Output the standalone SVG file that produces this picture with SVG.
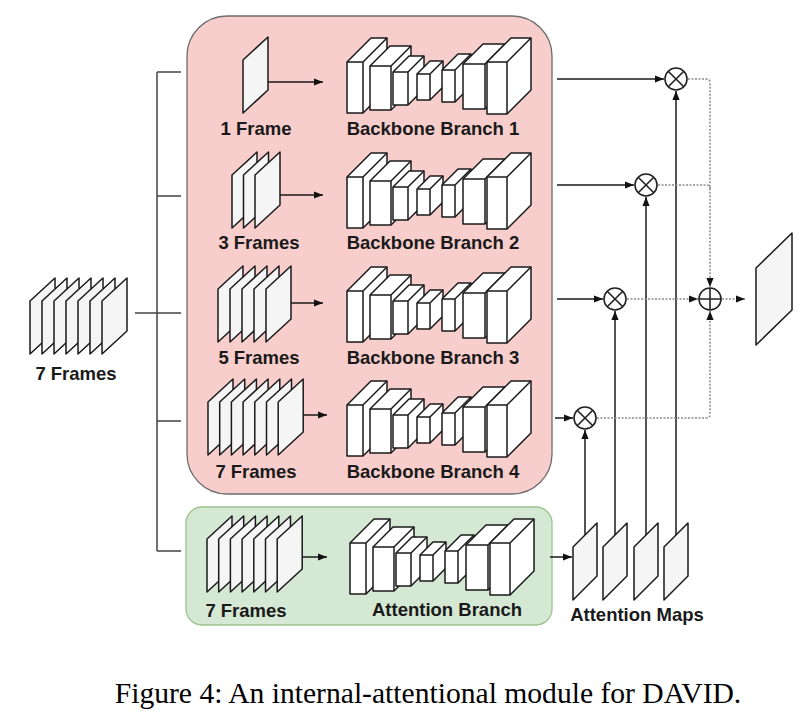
<svg xmlns="http://www.w3.org/2000/svg" width="808" height="726" viewBox="0 0 808 726">
<style>
.lbl{font-family:"Liberation Sans",Arial,sans-serif;font-weight:bold;font-size:18.5px;fill:#1a1a1a;text-anchor:middle}
.cap{font-family:"Liberation Serif","Times New Roman",serif;font-size:29.6px;fill:#000;text-anchor:middle}
.fr{fill:#f5f5f5;stroke:#1a1a1a;stroke-width:1.5;stroke-linejoin:round}
.bx{fill:#fff;stroke:#1a1a1a;stroke-width:1.5;stroke-linejoin:round}
.ed{fill:none;stroke:#1a1a1a;stroke-width:1.5;stroke-linejoin:round}
.ln{fill:none;stroke:#1a1a1a;stroke-width:1.5}
.br{fill:none;stroke:#444;stroke-width:1.5}
.dt{fill:none;stroke:#8a8a8a;stroke-width:1.5;stroke-dasharray:2 1.5}
.op{fill:none;stroke:#222;stroke-width:1.6}
</style>
<defs>
<marker id="ah" viewBox="0 0 10 10" refX="10" refY="5" markerWidth="9" markerHeight="9" markerUnits="userSpaceOnUse" orient="auto">
<path d="M0,1 L10,5 L0,9 z" fill="#111"/>
</marker>
<path id="fr" class="fr" d="M0,23 L25,0 L25,53 L0,76 Z"/>
<path id="mp" class="fr" d="M0,24 L24,0 L24,53 L0,77 Z"/>
<g id="net">
<path class="bx" d="M347,62 L371,38 L387,38 L387,89 L363,113 L347,113 Z"/><path class="ed" d="M347,62 H363 L387,38 M363,62 V113"/>
<path class="bx" d="M370,66 L390,46 L411,46 L411,90 L391,110 L370,110 Z"/><path class="ed" d="M370,66 H391 L411,46 M391,66 V110"/>
<path class="bx" d="M393,72 L409,56 L424,56 L424,89 L408,105 L393,105 Z"/><path class="ed" d="M393,72 H408 L424,56 M408,72 V105"/>
<path class="bx" d="M417,74 L430,61 L443,61 L443,87 L430,100 L417,100 Z"/><path class="ed" d="M417,74 H430 L443,61 M430,74 V100"/>
<path class="bx" d="M442,70 L458,54 L471,54 L471,86 L455,102 L442,102 Z"/><path class="ed" d="M442,70 H455 L471,54 M455,70 V102"/>
<path class="bx" d="M463,64 L483,44 L505,44 L505,89 L485,109 L463,109 Z"/><path class="ed" d="M463,64 H485 L505,44 M485,64 V109"/>
<path class="bx" d="M487,62 L511,38 L531,38 L531,90 L507,114 L487,114 Z"/><path class="ed" d="M487,62 H507 L531,38 M507,62 V114"/>
</g>
</defs>
<rect width="808" height="726" fill="#fff"/>

<g id="backbone-container">
<rect x="187" y="16" width="365" height="478" rx="40" fill="#f8cecc" stroke="#6e6e6e" stroke-width="1.3"/>
</g>
<g id="attention-container">
<rect x="186" y="507" width="366" height="118" rx="16" fill="#d5e8d4" stroke="#9cc48e" stroke-width="1.3"/>
</g>

<g id="connectors">
<path class="br" d="M135,313 H181 M157,72 V551 M157,72 H181 M157,196 H181 M157,421 H181 M157,551 H181"/>
<path class="ln" marker-end="url(#ah)" d="M268,82 H323"/>
<path class="ln" marker-end="url(#ah)" d="M280,195 H323"/>
<path class="ln" marker-end="url(#ah)" d="M291,303 H323"/>
<path class="ln" marker-end="url(#ah)" d="M303,415 H327"/>
<path class="ln" marker-end="url(#ah)" d="M303,557 H327"/>
<path class="ln" marker-end="url(#ah)" d="M557,79 H664"/>
<path class="ln" marker-end="url(#ah)" d="M557,185 H634"/>
<path class="ln" marker-end="url(#ah)" d="M557,299 H603"/>
<path class="ln" marker-end="url(#ah)" d="M555,418 H573"/>
<path class="ln" marker-end="url(#ah)" d="M550,557 H572"/>
<path class="ln" marker-end="url(#ah)" d="M676,535 V91"/>
<path class="ln" marker-end="url(#ah)" d="M646,535 V197"/>
<path class="ln" marker-end="url(#ah)" d="M615,535 V311"/>
<path class="ln" marker-end="url(#ah)" d="M585,535 V430"/>
<path class="dt" marker-end="url(#ah)" d="M688,79 H706 Q710,79 710,83 V287"/>
<path class="dt" d="M658,185 H706 Q710,185 710,189"/>
<path class="dt" marker-end="url(#ah)" d="M627,299 H698"/>
<path class="dt" marker-end="url(#ah)" d="M597,418 H706 Q710,418 710,414 V311"/>
<path class="dt" marker-end="url(#ah)" d="M722,299 H745"/>
</g>

<g id="input-7-frames">
<use href="#fr" x="30" y="278"/><use href="#fr" x="42" y="278"/><use href="#fr" x="54" y="278"/><use href="#fr" x="66" y="278"/><use href="#fr" x="78" y="278"/><use href="#fr" x="90" y="278"/><use href="#fr" x="102" y="278"/>
<text class="lbl" x="76" y="380">7 Frames</text>
</g>

<g id="frames-1">
<use href="#fr" x="243" y="37"/>
<text class="lbl" x="256" y="135">1 Frame</text>
</g>
<g id="frames-3">
<use href="#fr" x="232" y="152"/><use href="#fr" x="243.5" y="152"/><use href="#fr" x="255" y="152"/>
<text class="lbl" x="259" y="249">3 Frames</text>
</g>
<g id="frames-5">
<use href="#fr" x="218" y="266"/><use href="#fr" x="230" y="266"/><use href="#fr" x="242" y="266"/><use href="#fr" x="254" y="266"/><use href="#fr" x="266" y="266"/>
<text class="lbl" x="259" y="364">5 Frames</text>
</g>
<g id="frames-7">
<use href="#fr" x="208" y="379"/><use href="#fr" x="219.7" y="379"/><use href="#fr" x="231.4" y="379"/><use href="#fr" x="243.1" y="379"/><use href="#fr" x="254.8" y="379"/><use href="#fr" x="266.5" y="379"/><use href="#fr" x="278.2" y="379"/>
<text class="lbl" x="256" y="478">7 Frames</text>
</g>
<g id="attention-frames-7">
<use href="#fr" x="207" y="516"/><use href="#fr" x="218.7" y="516"/><use href="#fr" x="230.4" y="516"/><use href="#fr" x="242.1" y="516"/><use href="#fr" x="253.8" y="516"/><use href="#fr" x="265.5" y="516"/><use href="#fr" x="277.2" y="516"/>
<text class="lbl" x="246" y="617">7 Frames</text>
</g>

<g id="backbone-1">
<use href="#net"/>
<text class="lbl" x="433" y="135">Backbone Branch 1</text>
</g>
<g id="backbone-2">
<use href="#net" transform="translate(0,115)"/>
<text class="lbl" x="433" y="249">Backbone Branch 2</text>
</g>
<g id="backbone-3">
<use href="#net" transform="translate(0,229)"/>
<text class="lbl" x="433" y="364">Backbone Branch 3</text>
</g>
<g id="backbone-4">
<use href="#net" transform="translate(0,343)"/>
<text class="lbl" x="433" y="478">Backbone Branch 4</text>
</g>
<g id="attention-branch">
<use href="#net" transform="translate(3,481)"/>
<text class="lbl" x="447" y="616">Attention Branch</text>
</g>

<g id="attention-maps">
<use href="#mp" x="573" y="523"/><use href="#mp" x="603" y="523"/><use href="#mp" x="634" y="523"/><use href="#mp" x="664" y="523"/>
<text class="lbl" x="637" y="621">Attention Maps</text>
</g>

<g id="mul-1"><circle class="op" cx="676" cy="79" r="11" fill="#fff"/><path class="op" d="M668.2,71.2 L683.8,86.8 M683.8,71.2 L668.2,86.8"/></g>
<g id="mul-2"><circle class="op" cx="646" cy="185" r="11" fill="#fff"/><path class="op" d="M638.2,177.2 L653.8,192.8 M653.8,177.2 L638.2,192.8"/></g>
<g id="mul-3"><circle class="op" cx="615" cy="299" r="11" fill="#fff"/><path class="op" d="M607.2,291.2 L622.8,306.8 M622.8,291.2 L607.2,306.8"/></g>
<g id="mul-4"><circle class="op" cx="585" cy="418" r="11" fill="#fff"/><path class="op" d="M577.2,410.2 L592.8,425.8 M592.8,410.2 L577.2,425.8"/></g>
<g id="sum"><circle class="op" cx="710" cy="299" r="11" fill="#fff"/><path class="op" d="M699,299 H721 M710,288 V310"/></g>

<g id="output">
<path class="fr" d="M756,268 L792,233 L792,310 L756,345 Z"/>
</g>

<text class="cap" x="428" y="703">Figure 4: An internal-attentional module for DAVID.</text>
</svg>
